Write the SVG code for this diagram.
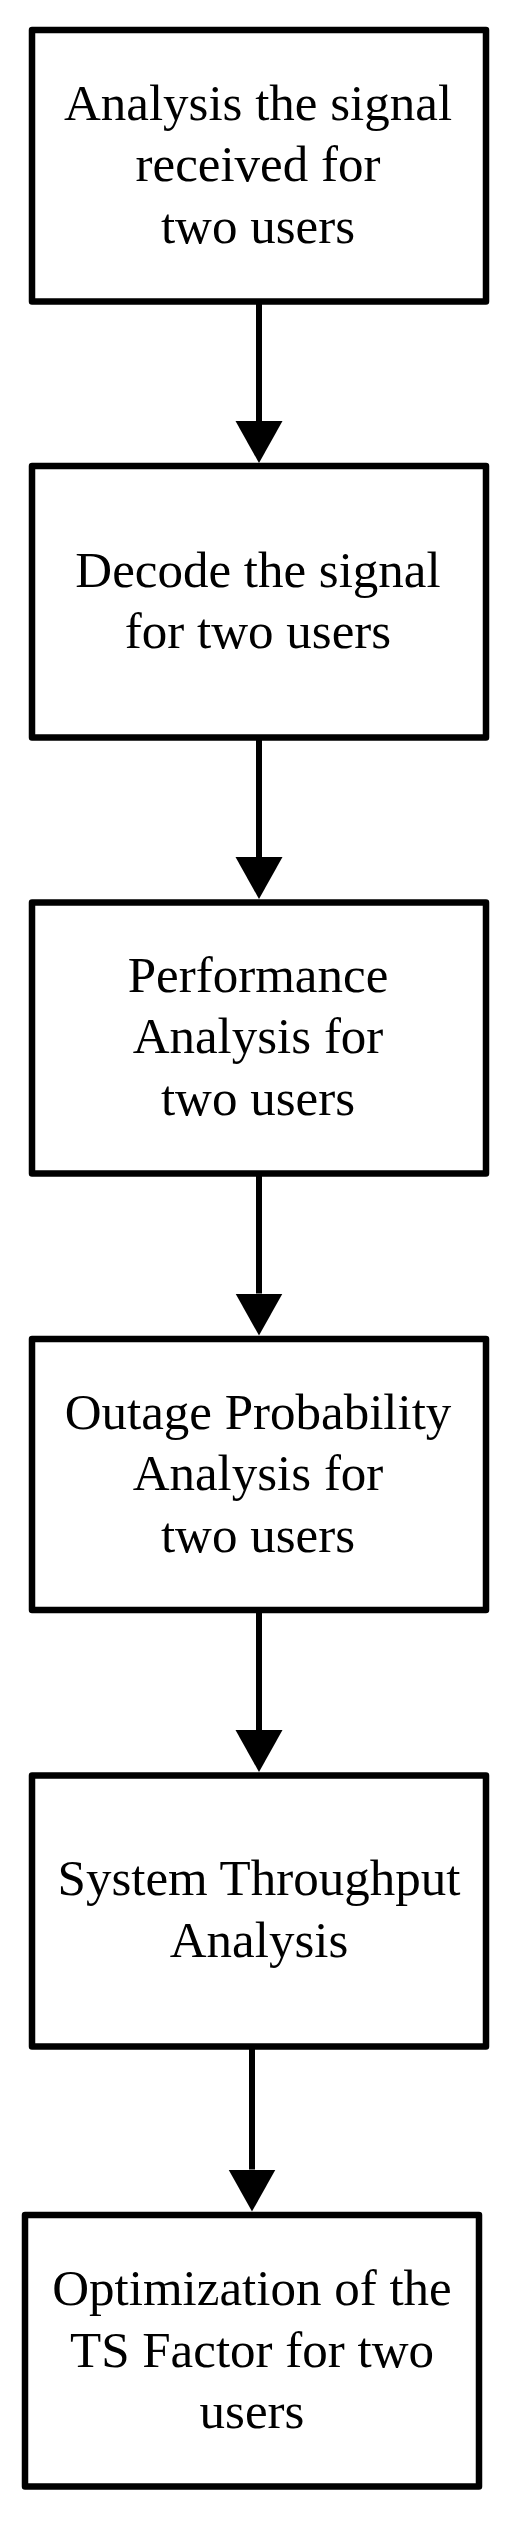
<svg xmlns="http://www.w3.org/2000/svg" width="515" height="2531" viewBox="0 0 515 2531">
<style>
.box{fill:#fff;stroke:#000;stroke-width:6.5;stroke-linejoin:round}
.lbl{font-family:"Liberation Serif","Times New Roman",serif;font-size:51px;fill:#000;text-anchor:middle}
.conn{stroke:#000;stroke-width:6;fill:none}
</style>
<defs>
<marker id="ah" markerUnits="userSpaceOnUse" markerWidth="43" markerHeight="48" refX="0" refY="23.5" orient="auto" viewBox="0 0 43 48">
<path d="M0,0 L42,23.5 L0,47 Z" fill="#000"/>
</marker>
</defs>
<rect width="515" height="2531" fill="#fff"/>
<g id="connectors">
<line class="conn" x1="259" y1="304" x2="259" y2="421" marker-end="url(#ah)"/>
<line class="conn" x1="259" y1="740" x2="259" y2="857" marker-end="url(#ah)"/>
<line class="conn" x1="259" y1="1176" x2="259" y2="1293.5" marker-end="url(#ah)"/>
<line class="conn" x1="259" y1="1613" x2="259" y2="1730" marker-end="url(#ah)"/>
<line class="conn" x1="252" y1="2049" x2="252" y2="2169.5" marker-end="url(#ah)"/>
</g>
<g id="n1">
<rect class="box" x="32" y="30" width="454" height="271.5"/>
<text class="lbl" x="258" y="119.5">Analysis the signal</text>
<text class="lbl" x="258" y="181">received for</text>
<text class="lbl" x="258" y="242.5">two users</text>
</g>
<g id="n2">
<rect class="box" x="32" y="466" width="454" height="271.5"/>
<text class="lbl" x="258" y="586.5">Decode the signal</text>
<text class="lbl" x="258" y="648.3">for two users</text>
</g>
<g id="n3">
<rect class="box" x="32" y="902.5" width="454" height="271"/>
<text class="lbl" x="258" y="991.7">Performance</text>
<text class="lbl" x="258" y="1053.3">Analysis for</text>
<text class="lbl" x="258" y="1115">two users</text>
</g>
<g id="n4">
<rect class="box" x="32" y="1339" width="454" height="271"/>
<text class="lbl" x="258" y="1429.3">Outage Probability</text>
<text class="lbl" x="258" y="1490">Analysis for</text>
<text class="lbl" x="258" y="1551.7">two users</text>
</g>
<g id="n5">
<rect class="box" x="32" y="1775.5" width="454" height="271"/>
<text class="lbl" x="259" y="1895">System Throughput</text>
<text class="lbl" x="259" y="1956.7">Analysis</text>
</g>
<g id="n6">
<rect class="box" x="25" y="2215" width="454" height="271.5"/>
<text class="lbl" x="252" y="2305">Optimization of the</text>
<text class="lbl" x="252" y="2366.7">TS Factor for two</text>
<text class="lbl" x="252" y="2428.3">users</text>
</g>
</svg>
